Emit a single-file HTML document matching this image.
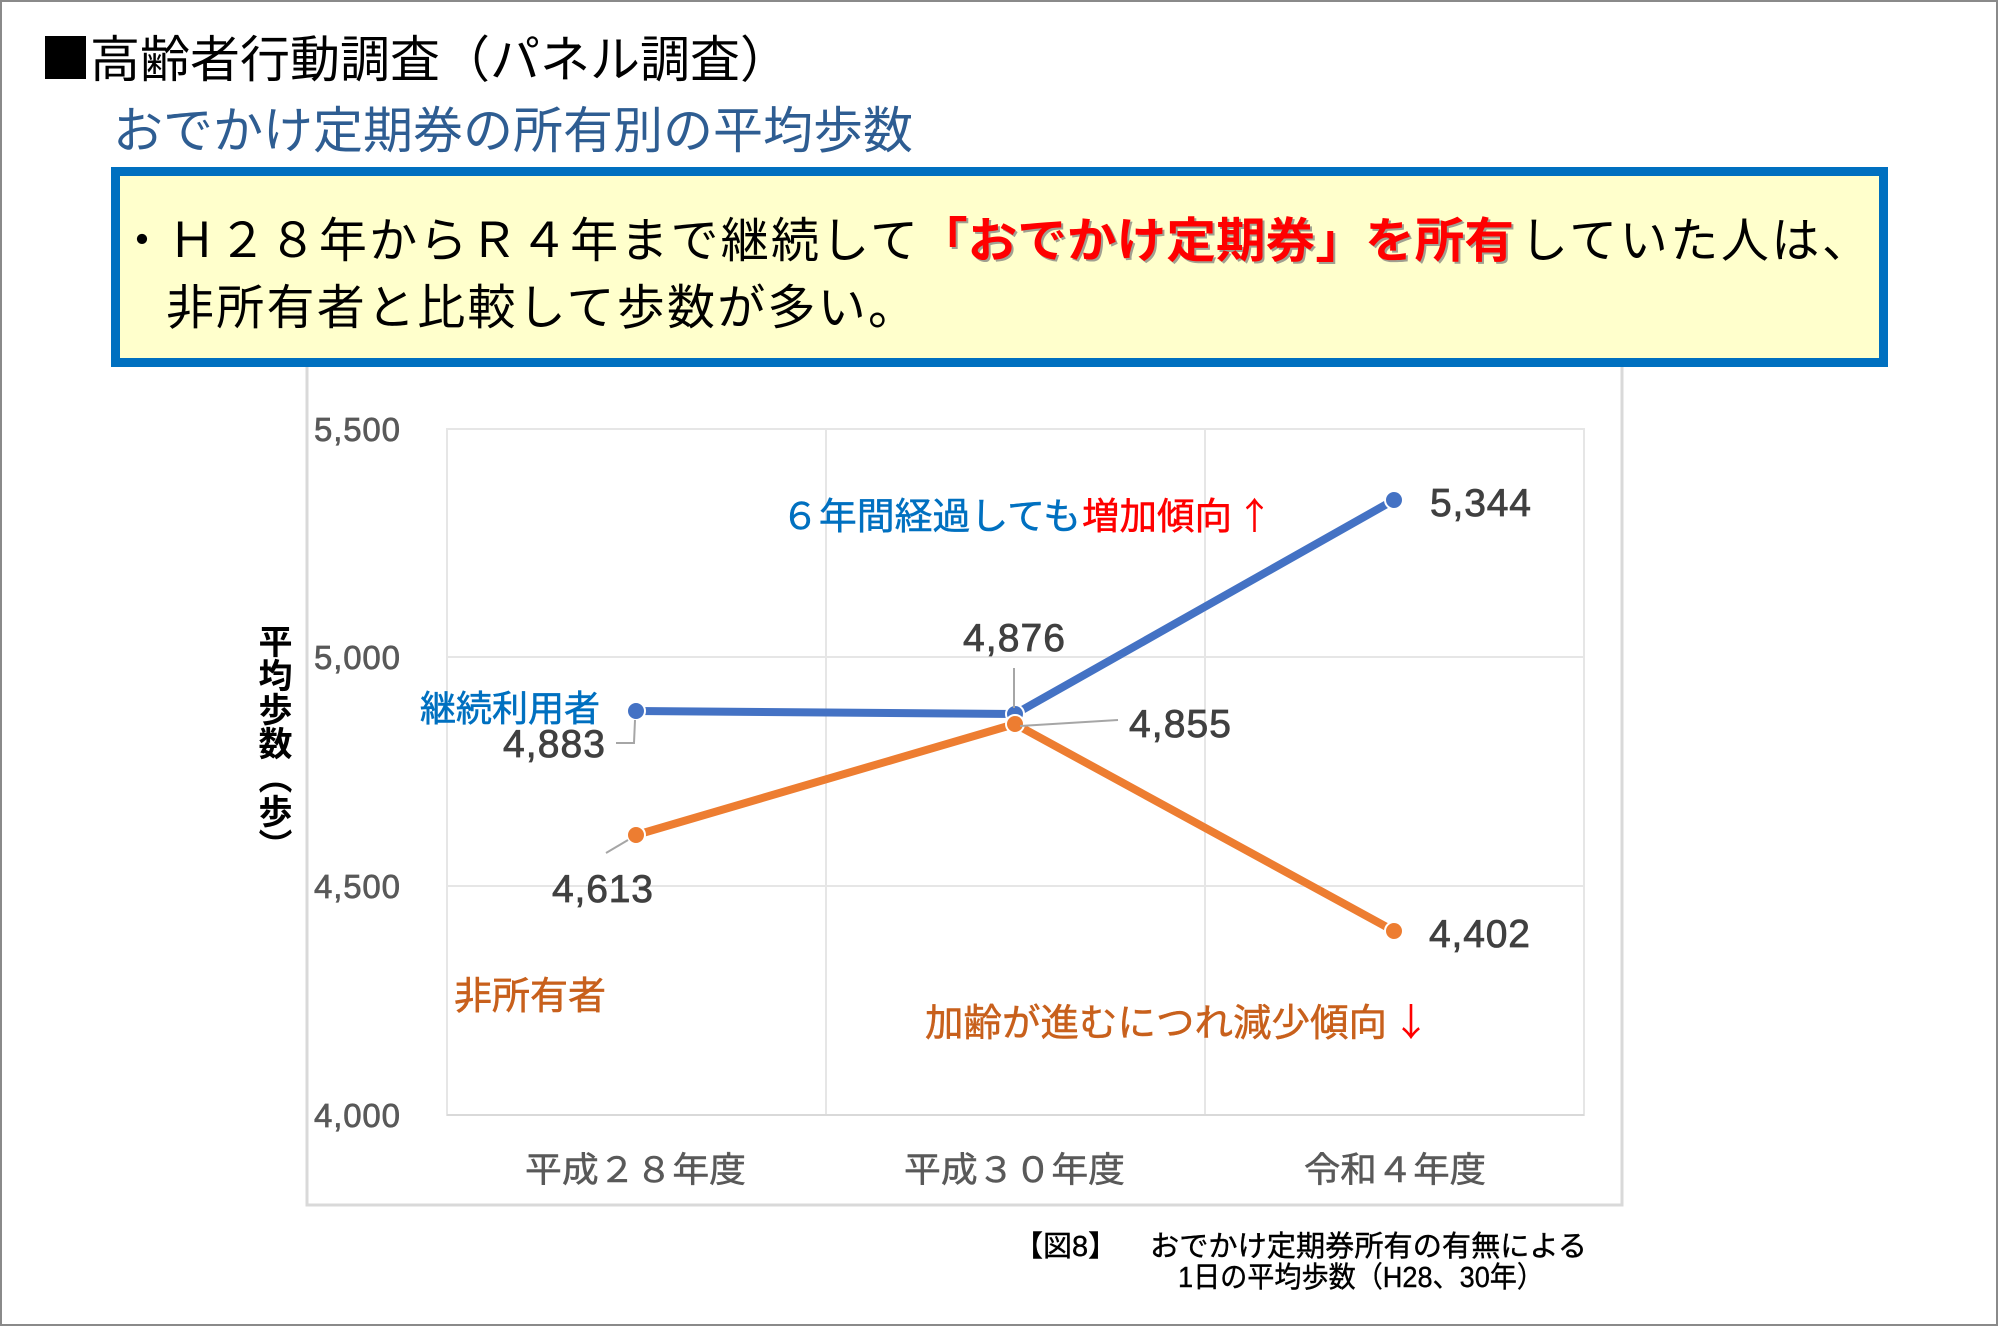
<!DOCTYPE html>
<html><head><meta charset="utf-8">
<style>
html,body{margin:0;padding:0;background:#fff;}
body{position:relative;width:2000px;height:1328px;overflow:hidden;}
svg{display:block;position:absolute;left:0;top:0;}
.yt{position:absolute;left:254px;top:624px;writing-mode:vertical-rl;font-family:"Liberation Sans","Noto Sans CJK JP",sans-serif;font-size:34px;line-height:36px;font-weight:bold;color:#000;}
</style></head>
<body>
<svg width="2000" height="1328" viewBox="0 0 2000 1328" xmlns="http://www.w3.org/2000/svg">
  <!-- page border -->
  <rect x="1" y="1" width="1996" height="1324" fill="#fff" stroke="#8a8a8a" stroke-width="2"/>

  <!-- chart frame -->
  <rect x="307" y="340" width="1315" height="865" fill="#fff" stroke="#d9d9d9" stroke-width="3"/>

  <!-- plot area grid -->
  <g stroke="#e6e6e6" stroke-width="2" fill="none">
    <rect x="447" y="429" width="1137" height="686"/>
    <line x1="447" y1="657" x2="1584" y2="657"/>
    <line x1="447" y1="886" x2="1584" y2="886"/>
    <line x1="826" y1="429" x2="826" y2="1115"/>
    <line x1="1205" y1="429" x2="1205" y2="1115"/>
  </g>
  <line x1="447" y1="1115" x2="1584" y2="1115" stroke="#d9d9d9" stroke-width="2"/>

  <!-- y tick labels -->
  <g font-family="'Liberation Sans','Noto Sans CJK JP',sans-serif" font-size="33" fill="#595959" stroke="#595959" stroke-width="0.7" text-anchor="end">
    <text x="400" y="441" textLength="86">5,500</text>
    <text x="400" y="669" textLength="86">5,000</text>
    <text x="400" y="898" textLength="86">4,500</text>
    <text x="400" y="1127" textLength="86">4,000</text>
  </g>

  <!-- x labels -->
  <g font-family="'Liberation Sans','Noto Sans CJK JP',sans-serif" font-size="35" fill="#595959" stroke="#595959" stroke-width="0.5">
    <text x="525" y="1182" textLength="221" lengthAdjust="spacingAndGlyphs">平成２８年度</text>
    <text x="904" y="1182" textLength="221" lengthAdjust="spacingAndGlyphs">平成３０年度</text>
    <text x="1304" y="1182" textLength="182" lengthAdjust="spacingAndGlyphs">令和４年度</text>
  </g>

  <!-- blue series -->
  <polyline points="636,711 1015,714 1394,500" fill="none" stroke="#4472C4" stroke-width="8" stroke-linejoin="round"/>
  <circle cx="636" cy="711" r="9" fill="#4472C4" stroke="#fff" stroke-width="2"/>
  <circle cx="1015" cy="714" r="9" fill="#4472C4" stroke="#fff" stroke-width="2"/>
  <circle cx="1394" cy="500" r="9" fill="#4472C4" stroke="#fff" stroke-width="2"/>

  <!-- orange series -->
  <polyline points="636,835 1015,724 1394,931" fill="none" stroke="#ED7D31" stroke-width="8" stroke-linejoin="round"/>
  <circle cx="636" cy="835" r="9" fill="#ED7D31" stroke="#fff" stroke-width="2"/>
  <circle cx="1015" cy="724" r="9" fill="#ED7D31" stroke="#fff" stroke-width="2"/>
  <circle cx="1394" cy="931" r="9" fill="#ED7D31" stroke="#fff" stroke-width="2"/>

  <!-- leader lines -->
  <g stroke="#a6a6a6" stroke-width="2" fill="none">
    <polyline points="616,743 634,743 635,720"/>
    <line x1="1014" y1="668" x2="1014" y2="708"/>
    <line x1="1020" y1="726" x2="1118" y2="720"/>
    <line x1="606" y1="853" x2="628" y2="840"/>
  </g>

  <!-- data labels -->
  <g font-family="'Liberation Sans','Noto Sans CJK JP',sans-serif" font-size="39" fill="#404040" stroke="#404040" stroke-width="0.8">
    <text x="605" y="757" text-anchor="end" textLength="102">4,883</text>
    <text x="963" y="651" textLength="102">4,876</text>
    <text x="1129" y="737" textLength="102">4,855</text>
    <text x="1430" y="516" textLength="101">5,344</text>
    <text x="552" y="902" textLength="101">4,613</text>
    <text x="1429" y="947" textLength="101">4,402</text>
  </g>

  <!-- series names / annotations -->
  <g font-family="'Liberation Sans','Noto Sans CJK JP',sans-serif">
    <text x="420" y="721" font-size="36" fill="#0070C0" stroke="#0070C0" stroke-width="0.6" textLength="180" lengthAdjust="spacingAndGlyphs">継続利用者</text>
    <text x="454" y="1009" font-size="38" fill="#C8601C" stroke="#C8601C" stroke-width="0.6" textLength="152" lengthAdjust="spacingAndGlyphs">非所有者</text>
    <text x="781" y="529" font-size="37" fill="#0070C0" stroke="#0070C0" stroke-width="0.5" textLength="300" lengthAdjust="spacingAndGlyphs">６年間経過しても</text>
    <text x="1082" y="529" font-size="37" fill="#FF0000" stroke="#FF0000" stroke-width="0.5" textLength="150" lengthAdjust="spacingAndGlyphs">増加傾向</text>
    <text x="1236" y="529" font-size="37" fill="#FF0000" font-family="'Noto Sans CJK JP',sans-serif">↑</text>
    <text x="925" y="1036" font-size="38" fill="#C8601C" stroke="#C8601C" stroke-width="0.5" textLength="462" lengthAdjust="spacingAndGlyphs">加齢が進むにつれ減少傾向</text>
    <text x="1392" y="1036" font-size="38" fill="#FF0000" font-family="'Noto Sans CJK JP',sans-serif">↓</text>
  </g>

  <!-- caption -->
  <g font-family="'Liberation Sans','Noto Sans CJK JP',sans-serif" font-size="29" fill="#000" stroke="#000" stroke-width="0.4">
    <text x="1014" y="1256">【図8】</text>
    <text x="1150" y="1256" textLength="437" lengthAdjust="spacingAndGlyphs">おでかけ定期券所有の有無による</text>
    <text x="1178" y="1287" textLength="366" lengthAdjust="spacingAndGlyphs">1日の平均歩数（H28、30年）</text>
  </g>

  <!-- titles -->
  <rect x="45" y="36" width="41" height="43" fill="#000"/>
  <g font-family="'Liberation Sans','Noto Sans CJK JP',sans-serif">
    <text x="90" y="77" font-size="50" fill="#000" textLength="700" lengthAdjust="spacingAndGlyphs">高齢者行動調査（パネル調査）</text>
    <text x="113" y="148" font-size="50" fill="#2E5D92" textLength="800" lengthAdjust="spacingAndGlyphs">おでかけ定期券の所有別の平均歩数</text>
  </g>

  <!-- highlight box -->
  <rect x="115.5" y="171.5" width="1768" height="191" fill="#FFFFCC" stroke="#0070C0" stroke-width="9"/>
  <g font-family="'Liberation Sans','Noto Sans CJK JP',sans-serif" font-size="48">
    <text x="118" y="257" fill="#000" textLength="800">・Ｈ２８年からＲ４年まで継続して</text>
    <text x="920" y="259" fill="#777" fill-opacity="0.7" font-weight="bold" textLength="596" lengthAdjust="spacingAndGlyphs">「おでかけ定期券」を所有</text>
    <text x="918" y="257" fill="#FF0000" font-weight="bold" textLength="596" lengthAdjust="spacingAndGlyphs">「おでかけ定期券」を所有</text>
    <text x="1520" y="257" fill="#000" textLength="350">していた人は、</text>
    <text x="166" y="324" fill="#000" textLength="750">非所有者と比較して歩数が多い。</text>
  </g>
</svg>
<div class="yt">平均歩数（歩）</div>
</body></html>
